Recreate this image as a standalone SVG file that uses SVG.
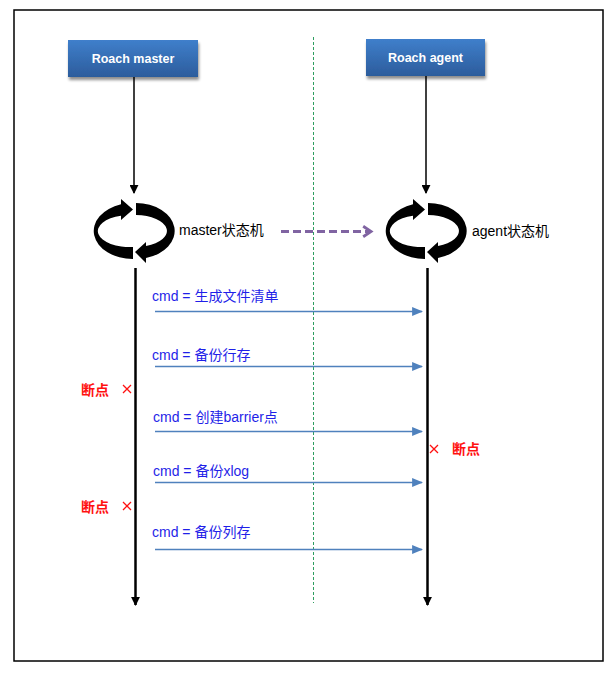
<svg xmlns="http://www.w3.org/2000/svg" width="616" height="676" viewBox="0 0 616 676">
<defs>
<linearGradient id="boxg" x1="0" y1="0" x2="0" y2="1">
<stop offset="0" stop-color="#3F7FCB"/>
<stop offset="1" stop-color="#2C5C9C"/>
</linearGradient>
<filter id="sh" x="-10%" y="-20%" width="130%" height="160%">
<feGaussianBlur in="SourceAlpha" stdDeviation="1.5"/>
<feOffset dx="1" dy="2.5" result="b"/>
<feComponentTransfer><feFuncA type="linear" slope="0.45"/></feComponentTransfer>
<feMerge><feMergeNode/><feMergeNode in="SourceGraphic"/></feMerge>
</filter>
<marker id="blk" viewBox="0 0 10 10" refX="9" refY="5" markerWidth="9" markerHeight="9" markerUnits="userSpaceOnUse" orient="auto">
<path d="M0,0 L10,5 L0,10 Z" fill="#000"/>
</marker>
<marker id="blu" viewBox="0 0 10 10" refX="9" refY="5" markerWidth="11" markerHeight="11" markerUnits="userSpaceOnUse" orient="auto">
<path d="M0,1 L10,5 L0,9 Z" fill="#4F81BD"/>
</marker>
<marker id="pur" viewBox="0 0 10 10" refX="8" refY="5" markerWidth="13" markerHeight="13" markerUnits="userSpaceOnUse" orient="auto">
<path d="M2,1 L8,5 L2,9" fill="none" stroke="#8064A2" stroke-width="2.2"/>
</marker>
<path id="cyc" d="M133 259 A39 28 0 0 1 121 204.3 L121 199 L133 209.5 L121 220 L121 215.7 A32 16 0 0 0 133 247 Z M136 203 A39 28 0 0 1 146 258 L146 263 L135 252 L146 242 L146 246 A32 16 0 0 0 136 215 Z"/>
</defs>
<style>
.box{fill:url(#boxg);filter:url(#sh)}
.bt{font-family:"Liberation Sans","Noto Sans CJK SC",sans-serif;font-size:12.5px;font-weight:bold;fill:#fff;text-anchor:middle}
.lbl{font-family:"Liberation Sans","Noto Sans CJK SC",sans-serif;font-size:14px;fill:#000}
.cmd{font-family:"Liberation Sans","Noto Sans CJK SC",sans-serif;font-size:14px;fill:#1F1FE8}
.bp{font-family:"Liberation Sans","Noto Sans CJK SC",sans-serif;font-size:14px;font-weight:bold;fill:#FF1010}
.x{stroke:#FF1010;stroke-width:1.3;fill:none}
.life{stroke:#000;stroke-width:2.5;fill:none}
.thin{stroke:#000;stroke-width:1.5;fill:none}
.msg{stroke:#4F81BD;stroke-width:1.4;fill:none}
</style>
<rect x="14" y="10" width="589" height="651" fill="#fff" stroke="#000" stroke-width="1.5"/>
<line x1="313.5" y1="37" x2="313.5" y2="603" stroke="#2E9E60" stroke-width="1" stroke-dasharray="3,2"/>
<g id="master">
<rect class="box" x="68" y="40" width="130" height="37"/>
<text class="bt" x="133" y="63">Roach master</text>
</g>
<g id="agent">
<rect class="box" x="366" y="39" width="119" height="37"/>
<text class="bt" x="425.5" y="62">Roach agent</text>
</g>
<g id="master-fsm">
<use href="#cyc" fill="#000"/>
<text class="lbl" x="179" y="235">master状态机</text>
</g>
<g id="agent-fsm">
<use href="#cyc" fill="#000" transform="translate(292,0)"/>
<text class="lbl" x="472" y="236">agent状态机</text>
</g>
<g id="breakpoints">
<text class="bp" x="81" y="395">断点</text>
<path class="x" d="M123 385 L131 393 M131 385 L123 393"/>
<text class="bp" x="81" y="512">断点</text>
<path class="x" d="M123 502 L131 510 M131 502 L123 510"/>
<path class="x" d="M430 445 L438 453 M438 445 L430 453"/>
<text class="bp" x="452" y="454">断点</text>
</g>
<g id="connectors">
<line class="thin" x1="134" y1="77" x2="134" y2="193" marker-end="url(#blk)"/>
<line class="thin" x1="426" y1="76" x2="426" y2="193" marker-end="url(#blk)"/>
<line class="life" x1="135.5" y1="268" x2="135.5" y2="605" marker-end="url(#blk)"/>
<line class="life" x1="427.5" y1="268" x2="427.5" y2="605" marker-end="url(#blk)"/>
<line x1="281" y1="231.5" x2="371" y2="231.5" stroke="#8064A2" stroke-width="3" stroke-dasharray="8,4" marker-end="url(#pur)"/>
<line class="msg" x1="155" y1="311.5" x2="422" y2="311.5" marker-end="url(#blu)"/>
<text class="cmd" x="152" y="301">cmd = 生成文件清单</text>
<line class="msg" x1="155" y1="366.5" x2="422" y2="366.5" marker-end="url(#blu)"/>
<text class="cmd" x="152" y="360">cmd = 备份行存</text>
<line class="msg" x1="155" y1="431.5" x2="422" y2="431.5" marker-end="url(#blu)"/>
<text class="cmd" x="153" y="422">cmd = 创建barrier点</text>
<line class="msg" x1="155" y1="482.5" x2="422" y2="482.5" marker-end="url(#blu)"/>
<text class="cmd" x="153" y="476">cmd = 备份xlog</text>
<line class="msg" x1="155" y1="549.5" x2="422" y2="549.5" marker-end="url(#blu)"/>
<text class="cmd" x="152" y="537">cmd = 备份列存</text>
</g>
</svg>
